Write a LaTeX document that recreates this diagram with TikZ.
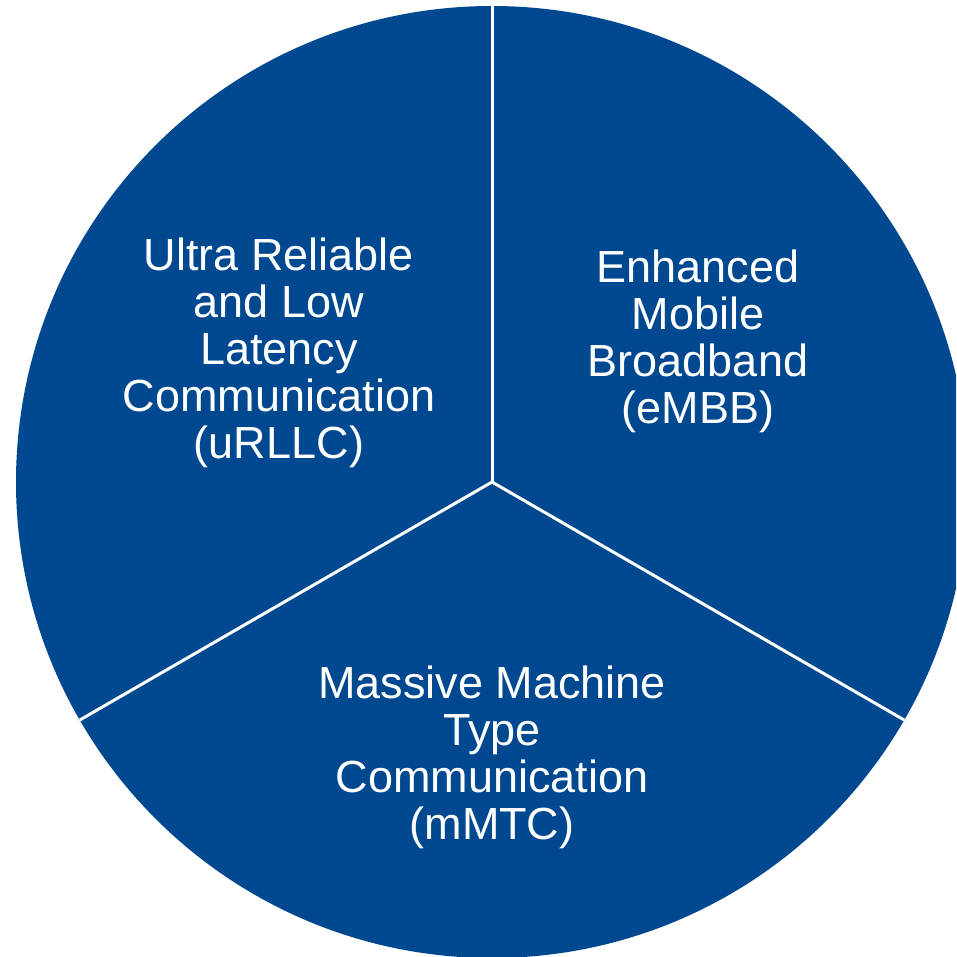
\documentclass[tikz,border=0pt]{standalone}
\usepackage{fontspec}
\setmainfont{Liberation Sans}
\usetikzlibrary{positioning, calc}

\definecolor{pieblue}{RGB}{0,73,144}

\begin{document}
\begin{tikzpicture}[
    x=1pt, y=-1pt,
    slice/.style = {fill=pieblue, draw=none},
    divider/.style = {draw=white, line width=3pt},
    label/.style = {
        text=white,
        align=center,
        inner sep=0pt,
        font=\fontsize{45}{47}\selectfont
    }
]

    % === FRAME ===
    \useasboundingbox (0,0) rectangle (956,957);
    \clip (0,0) rectangle (956,957);

    % === PIE ===
    \coordinate (hub) at (492,482);
    \fill[slice] (hub) circle[radius=476];

    \coordinate (rimtop) at (492,6);
    \coordinate (rimleft) at ($(hub)+(-412.2,238)$);
    \coordinate (rimright) at ($(hub)+(412.2,238)$);

    % === DIVIDERS ===
    \draw[divider] (hub) -- (rimtop);
    \draw[divider] (hub) -- (rimleft);
    \draw[divider] (hub) -- (rimright);

    % === SEGMENT LABELS ===
    \node[label] (urllc) at (279,353) {
        Ultra Reliable\\
        and Low\\
        Latency\\
        Communication\\
        (uRLLC)
    };

    \node[label] (embb) at (698,341) {
        Enhanced\\
        Mobile\\
        Broadband\\
        (eMBB)
    };

    \node[label] (mmtc) at (492,757) {
        Massive Machine\\
        Type\\
        Communication\\
        (mMTC)
    };

\end{tikzpicture}
\end{document}
